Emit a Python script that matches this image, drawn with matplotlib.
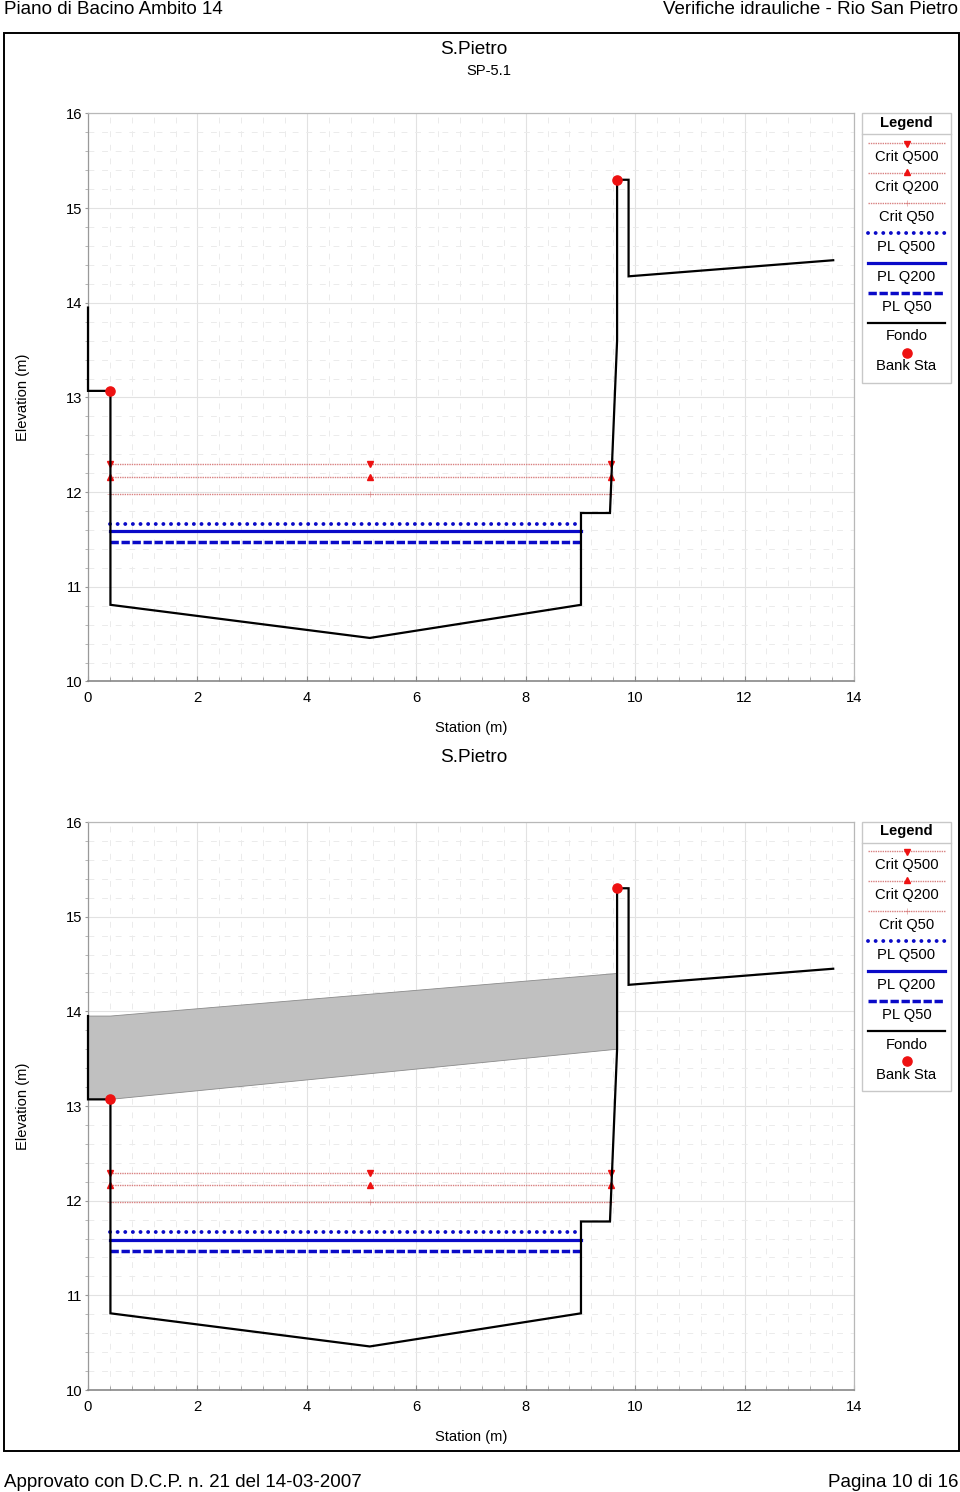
import matplotlib
matplotlib.use("Agg")
import matplotlib.pyplot as plt
from matplotlib.patches import Rectangle

plt.rcParams['font.family'] = ['Liberation Sans', 'DejaVu Sans']

W, H = 960, 1492

fondo_x = [0, 0, 0.41, 0.41, 5.15, 9.01, 9.01, 9.54, 9.67, 9.67, 9.88, 9.88, 13.62]
fondo_y = [13.95, 13.07, 13.07, 10.81, 10.46, 10.81, 11.78, 11.78, 13.6, 15.3, 15.3, 14.28, 14.45]
bank_x = [0.41, 9.67]
bank_y = [13.07, 15.3]
crit_x = [0.41, 5.15, 9.55]
crit_q500 = [12.295, 12.295, 12.295]
crit_q200 = [12.165, 12.165, 12.165]
crit_q50 = [11.985, 11.985, 11.985]
pl_x = [0.41, 9.01]
pl_q500 = [11.665, 11.665]
pl_q200 = [11.585, 11.585]
pl_q50 = [11.47, 11.47]
ineff_x = [0, 0.41, 9.67, 9.67, 0.41, 0]
ineff_y = [13.95, 13.95, 14.40, 13.60, 13.07, 13.07]
x_ticks = [0, 2, 4, 6, 8, 10, 12, 14]
y_ticks = [10, 11, 12, 13, 14, 15, 16]
legend_labels = ["Crit Q500", "Crit Q200", "Crit Q50", "PL Q500", "PL Q200", "PL Q50", "Fondo", "Bank Sta"]

RED = "#ee1111"
CRIT = "#d88080"
BLUE = "#0a0ac8"
TICK = 10.6

fig = plt.figure(figsize=(W / 100, H / 100), dpi=100, facecolor="white")
page = fig.add_axes([0, 0, 1, 1], zorder=5)
page.set_xlim(0, W)
page.set_ylim(H, 0)
page.axis("off")
page.patch.set_alpha(0)


def styles():
    crit = dict(color=CRIT, lw=1.0, ls=(0, (1, 0.7)))
    return [
        crit,
        crit,
        crit,
        dict(color=BLUE, lw=2.8, ls=(0, (0.01, 1.95)), dash_capstyle="round"),
        dict(color=BLUE, lw=2.3, ls="-"),
        dict(color=BLUE, lw=2.5, ls=(0, (2.4, 0.77)), dash_capstyle="butt"),
        dict(color="black", lw=1.6, ls="-"),
    ]


def chart(top, bottom, ineffective):
    ax = fig.add_axes([88 / W, 1 - bottom / H, (854 - 88) / W, (bottom - top) / H], zorder=2)
    ax.set_xlim(0, 14)
    ax.set_ylim(10, 16)
    ax.set_xticks(x_ticks)
    ax.set_yticks(y_ticks)
    ax.set_xticks([i * 0.4 for i in range(36)], minor=True)
    ax.set_yticks([10 + i * 0.2 for i in range(31)], minor=True)
    ax.grid(True, which="major", color="#e2e2e2", lw=0.8)
    ax.grid(True, which="minor", color="#ebebeb", lw=0.7, ls=(0, (6, 8)))
    ax.set_axisbelow(True)
    for side in ax.spines.values():
        side.set_color("#b8b8b8")
        side.set_linewidth(0.9)
    ax.spines["left"].set_color("#999999")
    ax.spines["bottom"].set_color("#888888")
    ax.spines["bottom"].set_linewidth(1.2)
    ax.tick_params(axis="y", which="major", length=2.5, width=0.8, color="#999999", labelsize=TICK, pad=1.6)
    ax.tick_params(axis="y", which="minor", length=2.2, width=0.6, color="#aaaaaa")
    ax.tick_params(axis="x", which="major", direction="in", length=3.5, width=0.8, color="#888888",
                   labelsize=TICK, pad=7)
    ax.tick_params(axis="x", which="minor", direction="in", length=3, width=0.6, color="#999999")
    ax.set_xlabel("Station (m)", fontsize=TICK)
    ax.xaxis.label.set_va("baseline")
    ax.xaxis.set_label_coords(0.5, -(732 - 681.5) / (bottom - top))
    ax.set_ylabel("Elevation (m)", fontsize=TICK)
    ax.yaxis.set_label_coords((30 - 88) / (854 - 88), 0.5)

    if ineffective:
        ax.fill(ineff_x, ineff_y, facecolor="#c0c0c0", edgecolor="#8a8a8a", lw=0.6, zorder=2)

    st = styles()
    ax.plot(crit_x, crit_q500, marker="v", ms=5, mfc=RED, mec=RED, zorder=3, **st[0])
    ax.plot(crit_x, crit_q200, marker="^", ms=5, mfc=RED, mec=RED, zorder=3, **st[1])
    ax.plot(crit_x, crit_q50, marker="+", ms=4, mew=0.4, mec=CRIT, zorder=3, **st[2])
    ax.plot(pl_x, pl_q500, zorder=3, **st[3])
    ax.plot(pl_x, pl_q200, zorder=3, **st[4])
    ax.plot(pl_x, pl_q50, zorder=3, **st[5])
    ax.plot(fondo_x, fondo_y, solid_joinstyle="miter", zorder=4, clip_on=False, **st[6])
    ax.plot(bank_x, bank_y, ls="none", marker="o", ms=6.6, color=RED, mec=RED, zorder=6, clip_on=False)

    # legend box
    page.add_patch(Rectangle((862, top - 0.5), 89, 269.5, fc="white", ec="#c8c8c8", lw=1))
    page.plot([862, 951], [top + 20.5, top + 20.5], color="#c8c8c8", lw=1)
    page.text(906.5, top + 9, "Legend", ha="center", va="center", fontsize=TICK, fontweight="bold")
    for i, label in enumerate(legend_labels):
        ky = top + 29 + i * 30
        page.text(906.5, ky + 14, label, ha="center", va="center", fontsize=TICK)
        if i < 7:
            page.plot([868, 945], [ky, ky], **st[i])
        if i == 0:
            page.plot([906.5], [ky + 1], marker="v", ms=5, color=RED)
        elif i == 1:
            page.plot([906.5], [ky - 1], marker="^", ms=5, color=RED)
        elif i == 2:
            page.plot([906.5], [ky], marker="+", ms=4, mew=0.4, color=CRIT)
        elif i == 7:
            page.plot([906.5], [ky], marker="o", ms=6.6, color=RED)


chart(113.5, 681.5, False)
chart(822, 1390, True)

# page decoration
page.add_patch(Rectangle((3.5, 32.5), 955, 1418, fc="none", ec="black", lw=1.4))
HEAD = 13.5
page.text(4, 14, "Piano di Bacino Ambito 14", ha="left", va="baseline", fontsize=HEAD)
page.text(958, 14, "Verifiche idrauliche - Rio San Pietro", ha="right", va="baseline", fontsize=HEAD)
page.text(4, 1487, "Approvato con D.C.P. n. 21 del 14-03-2007", ha="left", va="baseline", fontsize=HEAD)
page.text(958, 1487, "Pagina 10 di 16", ha="right", va="baseline", fontsize=HEAD)
page.text(473.5, 49, "S.Pietro", ha="center", va="center", fontsize=13.7)
page.text(489, 71, "SP-5.1", ha="center", va="center", fontsize=TICK)
page.text(473.5, 758, "S.Pietro", ha="center", va="center", fontsize=13.7)

fig.savefig("out.png", dpi=100, facecolor="white")
